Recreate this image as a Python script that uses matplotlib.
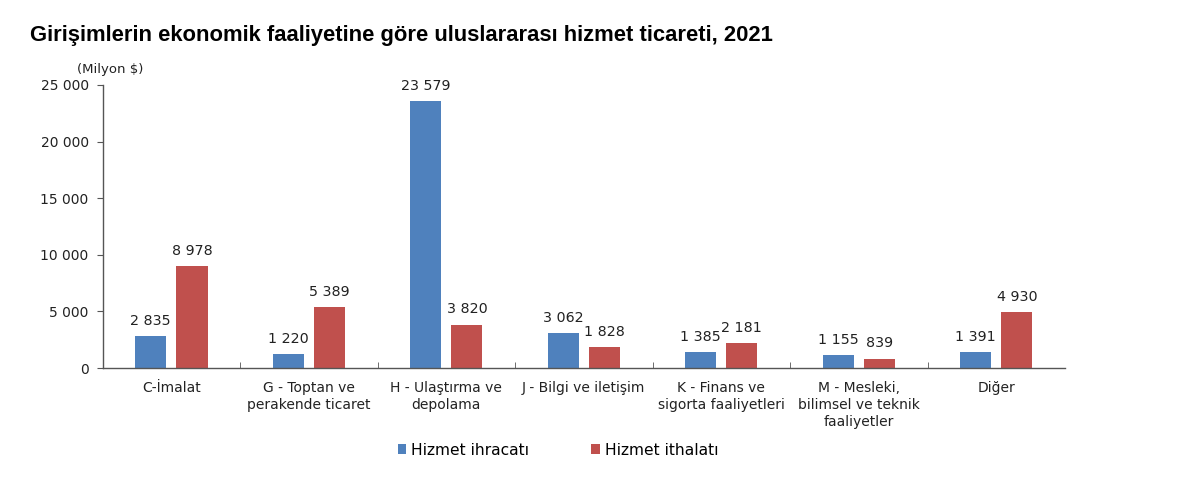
import matplotlib.pyplot as plt
import numpy as np
from matplotlib.ticker import FuncFormatter, FixedLocator

plt.rcParams['font.family'] = ['DejaVu Sans']

categories = ['C-İmalat', 'G - Toptan ve\nperakende ticaret', 'H - Ulaştırma ve\ndepolama',
              'J - Bilgi ve iletişim', 'K - Finans ve\nsigorta faaliyetleri',
              'M - Mesleki,\nbilimsel ve teknik\nfaaliyetler', 'Diğer']
ihracat = [2835, 1220, 23579, 3062, 1385, 1155, 1391]
ithalat = [8978, 5389, 3820, 1828, 2181, 839, 4930]
series_names = ['Hizmet ihracatı', 'Hizmet ithalatı']

blue = '#4F81BD'
red = '#C0504D'
txt = '#222222'


def fmt_thousands(v):
    return '{:,}'.format(int(round(v))).replace(',', ' ')


fig = plt.figure(figsize=(12, 4.82), dpi=100)
ax = fig.add_axes([0.0855, 0.2365, 0.802, 0.5872])

x = np.arange(len(categories))
w = 0.226
off = 0.15
b1 = ax.bar(x - off, ihracat, w, color=blue, label=series_names[0])
b2 = ax.bar(x + off, ithalat, w, color=red, label=series_names[1])

for bars, vals in ((b1, ihracat), (b2, ithalat)):
    for b, v in zip(bars, vals):
        ax.annotate(fmt_thousands(v), (b.get_x() + b.get_width() / 2, v),
                    xytext=(0, 6), textcoords='offset points',
                    ha='center', va='bottom', fontsize=10.3, color=txt)

ax.set_xlim(-0.5, len(categories) - 0.5)
ax.set_ylim(0, 25000)
ax.set_yticks(np.arange(0, 25001, 5000))
ax.yaxis.set_major_formatter(FuncFormatter(lambda v, p: fmt_thousands(v)))
ax.set_xticks(x)
ax.set_xticklabels(categories, fontsize=10, color=txt, linespacing=1.3)
ax.xaxis.set_minor_locator(FixedLocator(np.arange(0.5, len(categories) - 0.5, 1)))
ax.tick_params(axis='x', which='major', length=0, pad=9)
ax.tick_params(axis='x', which='minor', length=4, direction='in', color='#555555')
ax.tick_params(axis='y', length=4, direction='out', labelsize=10, color='#555555',
               labelcolor=txt, pad=6)

for s in ['top', 'right']:
    ax.spines[s].set_visible(False)
for s in ['left', 'bottom']:
    ax.spines[s].set_color('#555555')
    ax.spines[s].set_linewidth(1.0)

fig.text(0.025, 0.927, 'Girişimlerin ekonomik faaliyetine göre uluslararası hizmet ticareti, 2021',
         fontsize=15.8, fontweight='bold', ha='left', va='center',
         family=['Liberation Sans', 'DejaVu Sans'])
fig.text(0.064, 0.855, '(Milyon $)', fontsize=9.5, ha='left', va='center', color=txt)

fig.legend(handles=[b1, b2], labels=series_names, loc='center', bbox_to_anchor=(0.465, 0.066),
           ncol=2, frameon=False, fontsize=11.2, handlelength=0.55, handleheight=0.55,
           columnspacing=4.0, handletextpad=0.3)

fig.savefig('out.png', dpi=100)
